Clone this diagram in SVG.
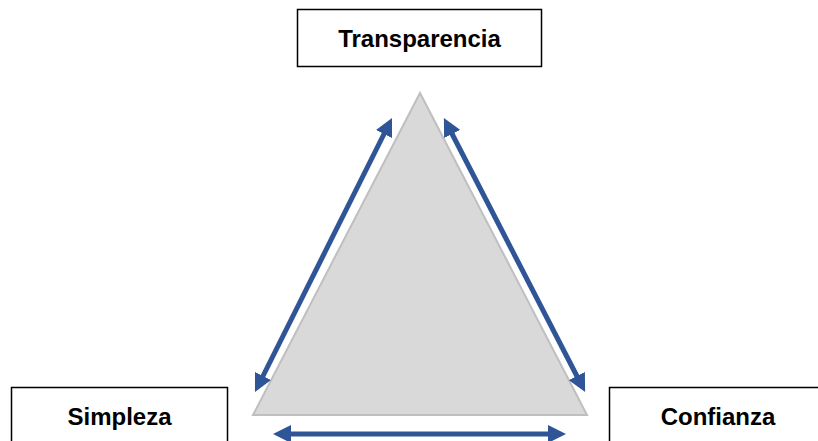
<svg xmlns="http://www.w3.org/2000/svg" width="818" height="441" viewBox="0 0 818 441">
<style>
.box{fill:#fff;stroke:#000;stroke-width:1.5}
.lbl{font-family:"Liberation Sans",Arial,sans-serif;font-weight:bold;font-size:24px;fill:#000;text-anchor:middle}
.conn{stroke:#2F5597;stroke-width:5;fill:none;marker-start:url(#ah);marker-end:url(#ah)}
</style>
<defs>
<marker id="ah" viewBox="0 0 18 18" refX="9" refY="9" markerWidth="18" markerHeight="18" markerUnits="userSpaceOnUse" orient="auto-start-reverse">
<path d="M0,0 L18,9 L0,18 z" fill="#2F5597"/>
</marker>
</defs>
<g id="triangle">
<polygon points="420,93 253,415 587,415" fill="#D9D9D9" stroke="#BFBFBF" stroke-width="2"/>
</g>
<g id="transparencia">
<rect class="box" x="297.5" y="9.5" width="244" height="57"/>
<text class="lbl" x="419.5" y="47">Transparencia</text>
</g>
<g id="simpleza">
<rect class="box" x="11.5" y="387.5" width="216" height="70"/>
<text class="lbl" x="119.5" y="425">Simpleza</text>
</g>
<g id="confianza">
<rect class="box" x="609.5" y="387.5" width="220" height="70"/>
<text class="lbl" x="718" y="425">Confianza</text>
</g>
<g id="connectors">
<line class="conn" x1="259" y1="384" x2="388" y2="126"/>
<line class="conn" x1="448" y1="126" x2="581" y2="384"/>
<line class="conn" x1="282" y1="434" x2="557" y2="434"/>
</g>
</svg>
